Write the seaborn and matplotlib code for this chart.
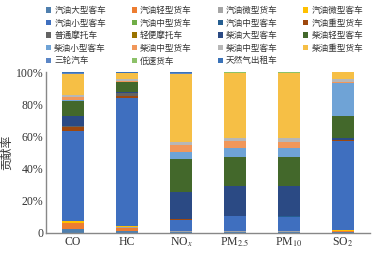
import numpy as np
import pandas as pd
import matplotlib
matplotlib.use("Agg")
import matplotlib.pyplot as plt
from matplotlib.patches import Patch
import seaborn as sns

categories = ["CO", "HC", "NOx", "PM2.5", "PM10", "SO2"]
tick_labels = ["CO", "HC", r"NO$_{x}$", r"PM$_{2.5}$", r"PM$_{10}$", r"SO$_{2}$"]
series_names = ["汽油大型客车", "汽油轻型货车", "汽油微型货车", "汽油微型客车",
                "汽油小型客车", "汽油中型货车", "汽油中型客车", "汽油重型货车",
                "普通摩托车", "轻便摩托车", "柴油大型客车", "柴油轻型客车",
                "柴油小型客车", "柴油中型货车", "柴油中型客车", "柴油重型货车",
                "三轮汽车", "低速货车", "天然气出租车"]

# contribution (%) per category: CO, HC, NOx, PM2.5, PM10, SO2
gas_big_bus      = [2.5, 1.2, 0.5, 0.5, 0.5, 0.3]
gas_light_truck  = [3.3, 2.0, 0.3, 0.3, 0.3, 0.8]
gas_mini_truck   = [0.3, 0.2, 0.1, 0.1, 0.1, 0.2]
gas_mini_bus     = [1.5, 1.0, 0.1, 0.1, 0.1, 0.3]
gas_small_bus    = [55.5, 79.2, 6.7, 9.2, 9.0, 55.6]
gas_mid_truck    = [0.2, 0.1, 0.1, 0.1, 0.1, 0.1]
gas_mid_bus      = [0.3, 0.2, 0.2, 0.1, 0.1, 0.1]
gas_heavy_truck  = [2.5, 1.5, 0.3, 0.1, 0.1, 0.1]
moto_normal      = [0.2, 1.5, 0.1, 0.1, 0.1, 0.1]
moto_light       = [0.2, 0.1, 0.1, 0.1, 0.1, 0.1]
die_big_bus      = [6.3, 0.5, 16.6, 18.2, 18.4, 1.4]
die_light_bus    = [9.4, 6.3, 20.7, 18.1, 18.0, 13.5]
die_small_bus    = [0.3, 0.2, 4.2, 5.8, 5.7, 20.3]
die_mid_truck    = [2.2, 0.3, 4.6, 4.1, 4.1, 1.0]
die_mid_bus      = [0.8, 1.5, 2.0, 2.1, 2.0, 1.5]
die_heavy_truck  = [13.4, 3.5, 42.4, 40.3, 40.7, 4.4]
tricycle         = [0.2, 0.1, 0.2, 0.2, 0.2, 0.1]
low_speed_truck  = [0.1, 0.1, 0.5, 0.4, 0.4, 0.1]
cng_taxi         = [0.8, 0.5, 0.3, 0.2, 0.2, 0.1]

series_values = [gas_big_bus, gas_light_truck, gas_mini_truck, gas_mini_bus,
                 gas_small_bus, gas_mid_truck, gas_mid_bus, gas_heavy_truck,
                 moto_normal, moto_light, die_big_bus, die_light_bus,
                 die_small_bus, die_mid_truck, die_mid_bus, die_heavy_truck,
                 tricycle, low_speed_truck, cng_taxi]

colors = ["#4f7fae", "#ed7d31", "#a5a5a5", "#ffc000",
          "#3f6fbf", "#70ad47", "#255e91", "#9e480e",
          "#636363", "#997300", "#2b4a84", "#43682b",
          "#6fa3d6", "#f1975a", "#b7b7b7", "#f6bf45",
          "#5b86c6", "#8cc168", "#3a72b8"]

sns.set_style("white")
plt.rcParams['font.family'] = ['Liberation Serif', 'Noto Sans CJK SC', 'DejaVu Sans']
plt.rcParams['mathtext.fontset'] = 'stix'

fig = plt.figure(figsize=(3.89, 2.61), dpi=100)
ax = fig.add_axes([0.118, 0.108, 0.833, 0.616])

vals = np.array(series_values, dtype=float)
cum = np.cumsum(vals, axis=0)
for i in range(len(series_names) - 1, -1, -1):
    d = pd.DataFrame({"cat": categories, "top": cum[i]})
    sns.barplot(data=d, x="cat", y="top", color=colors[i], width=0.4,
                saturation=1, ax=ax, linewidth=0, errorbar=None)

ax.set_ylim(0, 100)
ax.set_xlim(-0.5, 5.5)
ax.set_yticks([0, 20, 40, 60, 80, 100])
ax.set_yticklabels(["0", "20%", "40%", "60%", "80%", "100%"], fontsize=8.5, color="#333333")
ax.set_xticks(range(len(categories)))
ax.set_xticklabels(tick_labels, fontsize=8.5, color="#333333")
ax.set_xlabel("")
ax.set_ylabel("贡献率", fontsize=8.5, family=['Noto Sans CJK SC'], color="#333333", labelpad=2)
ax.tick_params(axis='both', length=0, pad=2)
for s in ["top", "right"]:
    ax.spines[s].set_visible(False)
for s in ["left", "bottom"]:
    ax.spines[s].set_color("#888888")
    ax.spines[s].set_linewidth(1.0)

handles = [Patch(facecolor=c, edgecolor='none') for c in colors]
order = [0, 4, 8, 12, 16, 1, 5, 9, 13, 17, 2, 6, 10, 14, 18, 3, 7, 11, 15]
leg = fig.legend([handles[i] for i in order], [series_names[i] for i in order],
                 loc="upper left", bbox_to_anchor=(0.105, 0.997), ncol=4, frameon=False,
                 prop={'family': ['Noto Sans CJK SC'], 'size': 6.2},
                 handlelength=0.6, handleheight=0.6, handletextpad=0.35,
                 columnspacing=3.0, labelspacing=0.42, borderaxespad=0.2)
for t in leg.get_texts():
    t.set_color("#333333")

fig.savefig("out.png", dpi=100)
